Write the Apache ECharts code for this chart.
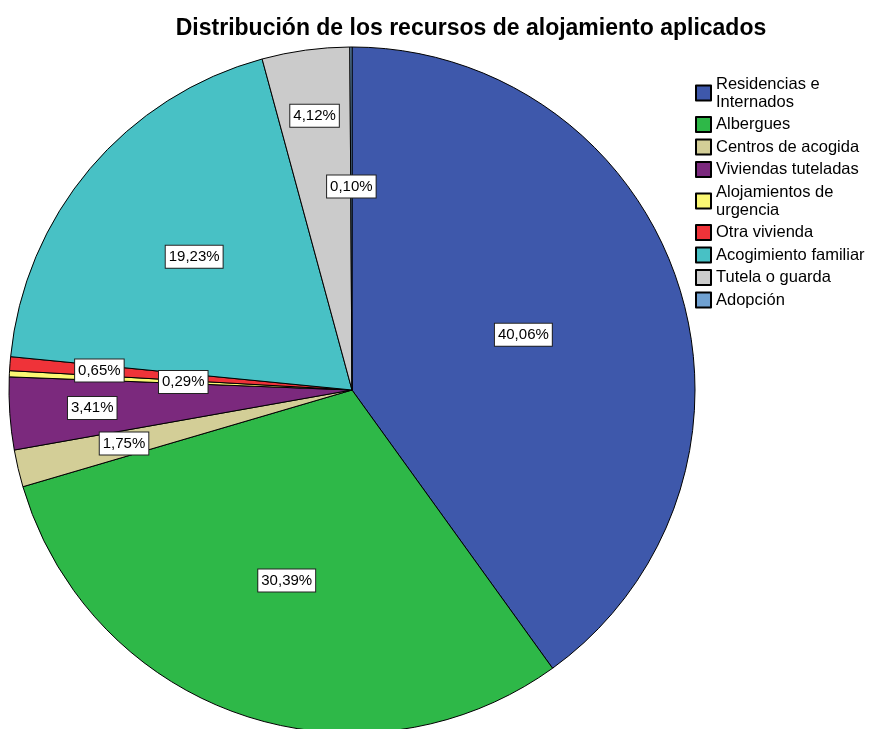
<!DOCTYPE html>
<html>
<head>
<meta charset="utf-8">
<script src="https://cdn.jsdelivr.net/npm/echarts@6/dist/echarts.min.js"></script>
<style>
  html, body { margin: 0; padding: 0; background: #fff; }
  #pie { width: 887px; height: 729px; }
</style>
</head>
<body>
<div id="pie"></div>
<script>
// categories in drawing order (clockwise from 12 o'clock)
const categories = [
  'Residencias e\nInternados',
  'Albergues',
  'Centros de acogida',
  'Viviendas tuteladas',
  'Alojamientos de\nurgencia',
  'Otra vivienda',
  'Acogimiento familiar',
  'Tutela o guarda',
  'Adopción'
];
const percents = [40.06, 30.39, 1.75, 3.41, 0.29, 0.65, 19.23, 4.12, 0.10];
const colors = ['#3e58ab', '#2eb848', '#d3ce97', '#7b297d', '#fbf873', '#ef3339', '#48c1c5', '#cbcbcb', '#70a1d1'];
// where each label sits, as a share of the radius
const labelRadius = [0.516, 0.577, 0.671, 0.746, 0.484, 0.726, 0.592, 0.793, 0.583];

const cx = 352, cy = 390, r = 343;

let pie = echarts.init(document.getElementById('pie'));
let pie_option = {
  backgroundColor: '#fff',
  animation: false,
  title: {
    text: 'Distribución de los recursos de alojamiento aplicados',
    left: 466,
    top: 12,
    textAlign: 'center',
    textStyle: {
      fontFamily: 'Liberation Sans',
      fontSize: 23,
      fontWeight: 'bold',
      color: '#000'
    }
  },
  legend: {
    orient: 'vertical',
    left: 690,
    top: 70,
    icon: 'rect',
    itemWidth: 15,
    itemHeight: 15,
    itemGap: 4.5,
    selectedMode: false,
    data: categories,
    textStyle: {
      fontFamily: 'Liberation Sans',
      fontSize: 16.5,
      lineHeight: 18,
      color: '#000'
    }
  },
  series: [
    {
      type: 'pie',
      center: [cx, cy],
      radius: r,
      startAngle: 90,
      clockwise: true,
      silent: true,
      avoidLabelOverlap: false,
      itemStyle: { borderColor: '#000', borderWidth: 1 },
      emphasis: { disabled: true },
      label: {
        show: true,
        position: 'inside',
        formatter: p => p.value.toFixed(2).replace('.', ',') + '%',
        fontFamily: 'Liberation Sans',
        fontSize: 15,
        color: '#000',
        backgroundColor: '#fff',
        borderColor: '#222',
        borderWidth: 1,
        padding: [4, 3, 3, 3]
      },
      labelLine: { show: false },
      labelLayout: function (params) {
        let lr = params.labelRect;
        let lx = lr.x + lr.width / 2, ly = lr.y + lr.height / 2;
        let k = labelRadius[params.dataIndex] / 0.5 - 1;
        return { dx: (lx - cx) * k, dy: (ly - cy) * k };
      },
      data: categories.map((name, i) => ({
        name: name,
        value: percents[i],
        itemStyle: { color: colors[i] }
      }))
    }
  ]
};
pie.setOption(pie_option);
</script>
</body>
</html>
